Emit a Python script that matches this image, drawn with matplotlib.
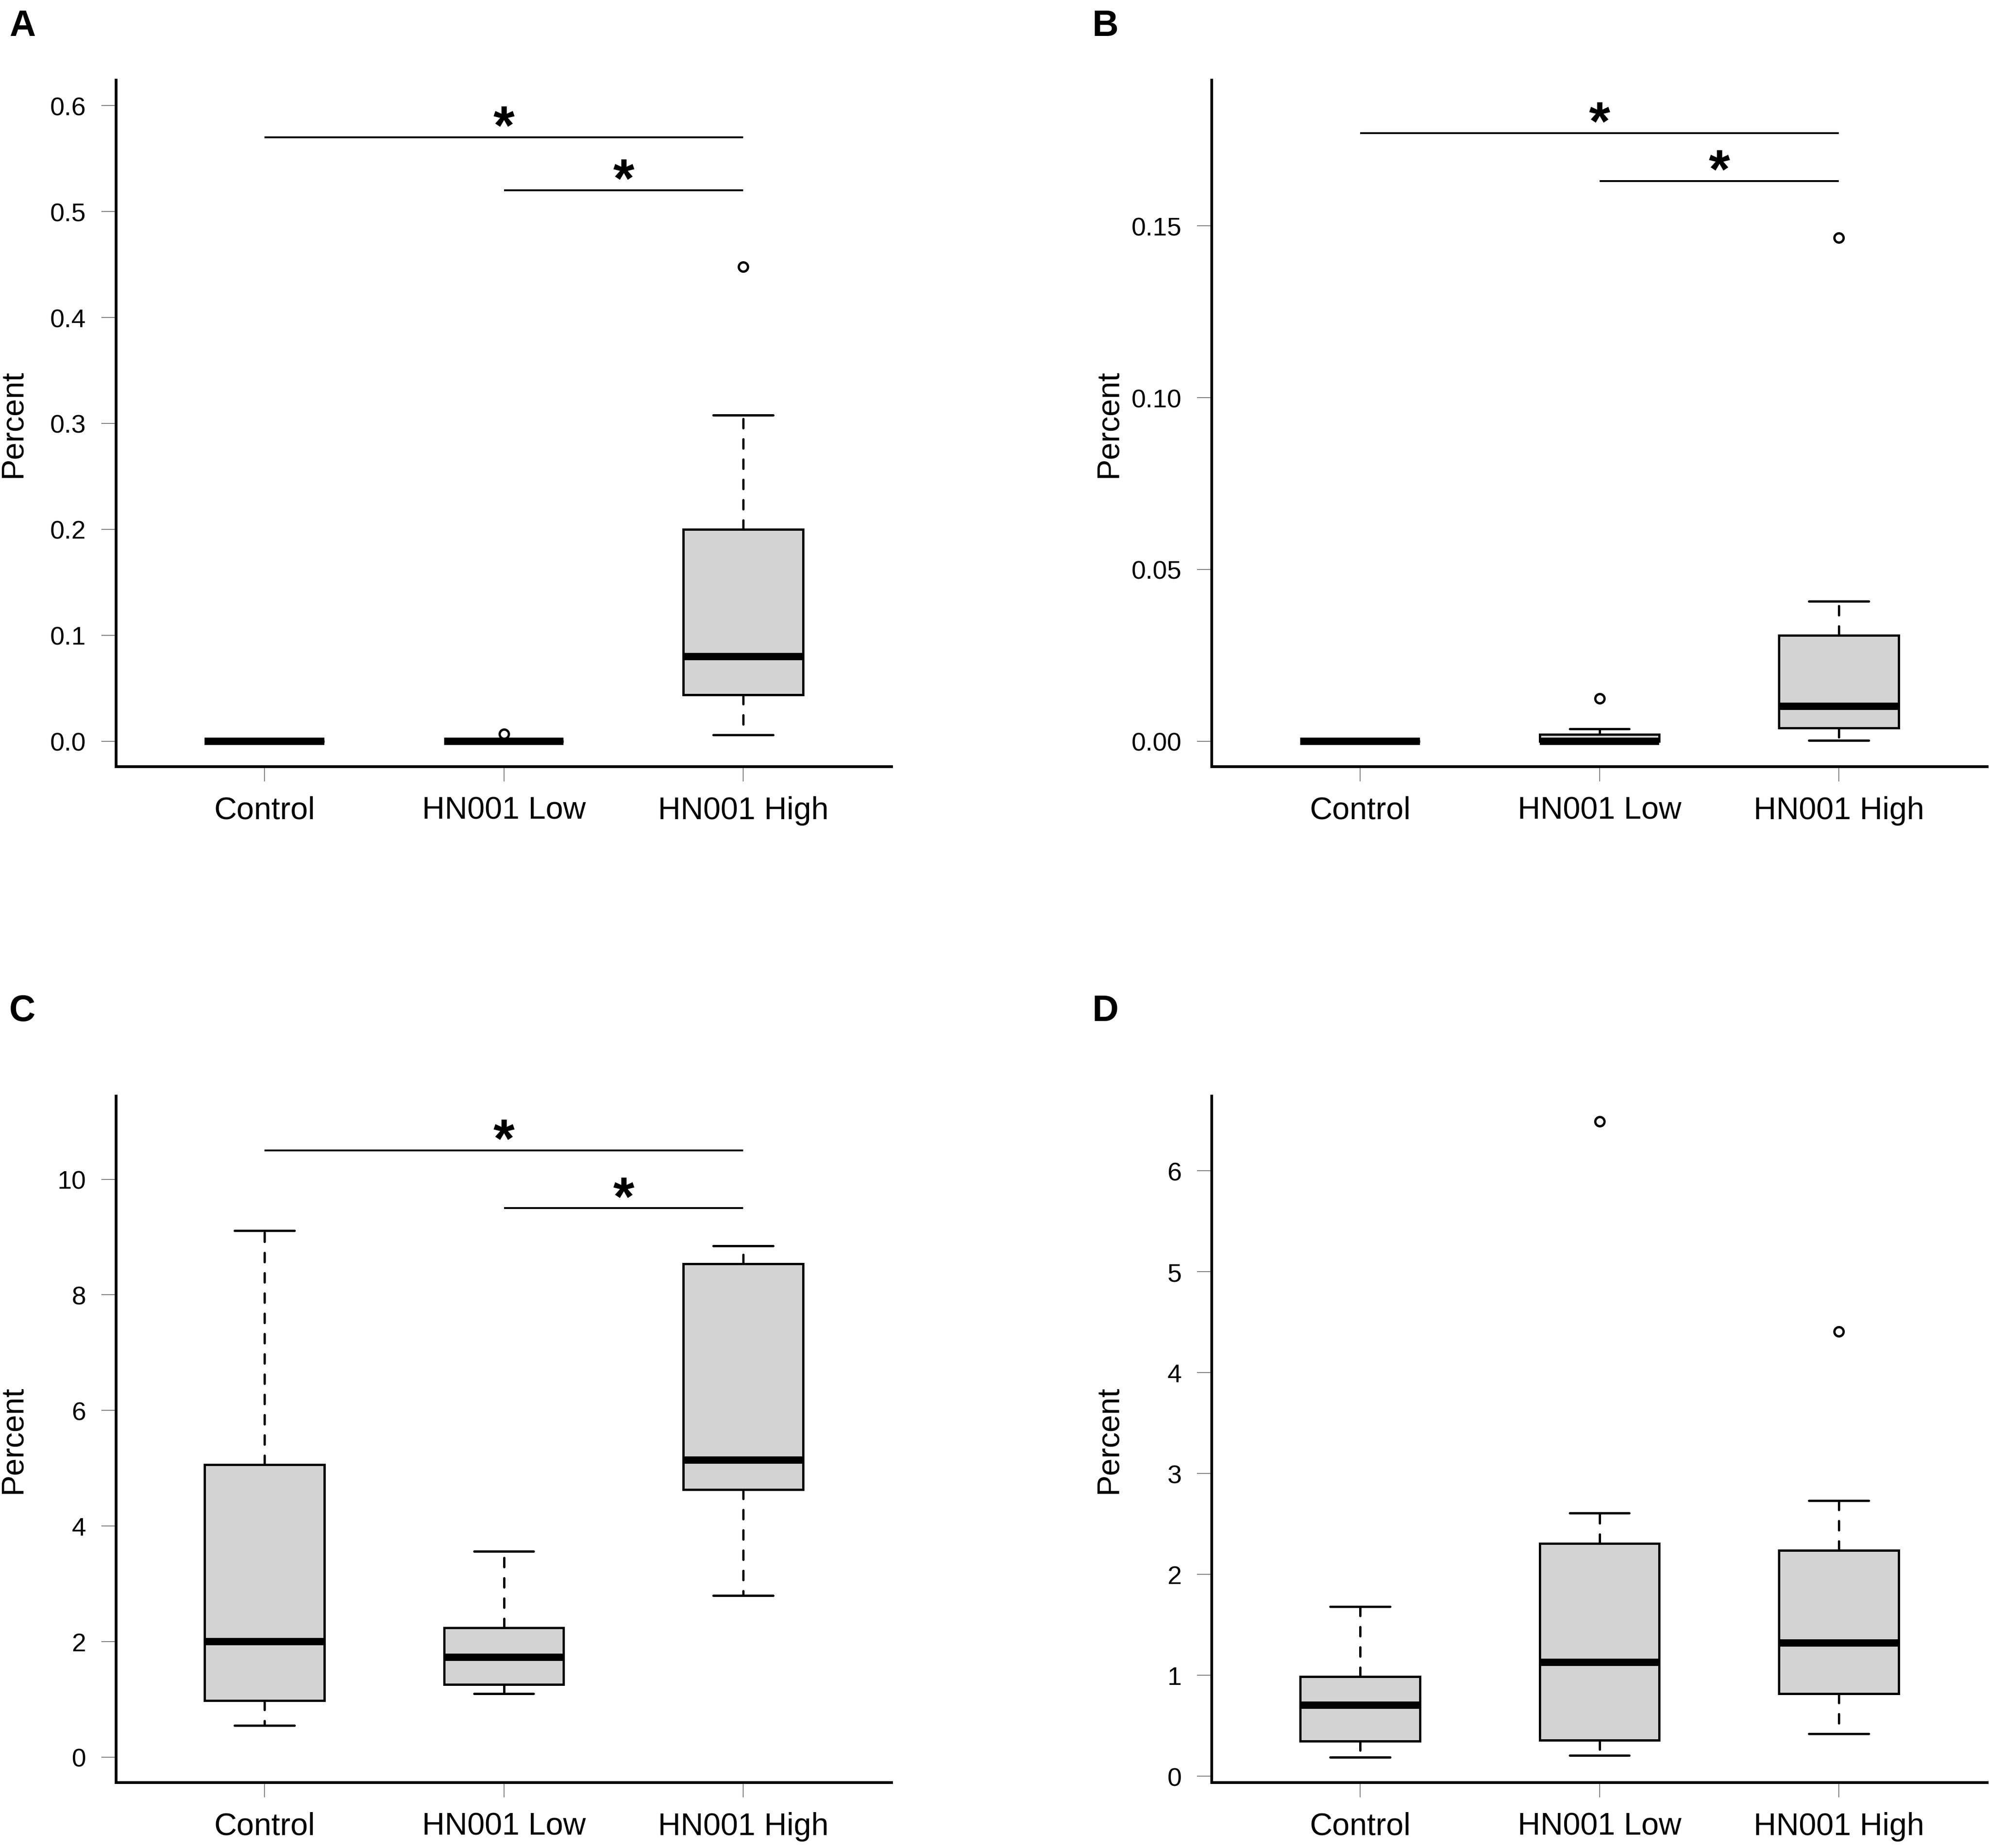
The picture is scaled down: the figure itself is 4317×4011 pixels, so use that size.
import matplotlib
matplotlib.use("Agg")
import matplotlib.pyplot as plt
import numpy as np

plt.rcParams['font.family'] = ['Liberation Sans', 'DejaVu Sans']

groups = ["Control", "HN001 Low", "HN001 High"]

# Panel A
a_med = [0.0, 0.0, 0.080]
a_q1 = [0.0, 0.0, 0.044]
a_q3 = [0.0, 0.0, 0.200]
a_lo = [0.0, 0.0, 0.006]
a_hi = [0.0, 0.0, 0.308]
a_out = [[], [0.007], [0.448]]
a_ylim = (0.0, 0.6)
a_ticks = [0.0, 0.1, 0.2, 0.3, 0.4, 0.5, 0.6]
a_ticklabels = ["0.0", "0.1", "0.2", "0.3", "0.4", "0.5", "0.6"]
a_sig = [(1, 3, 0.57), (2, 3, 0.52)]

# Panel B
b_med = [0.0, 0.0, 0.0102]
b_q1 = [0.0, 0.0, 0.0038]
b_q3 = [0.0, 0.0020, 0.0308]
b_lo = [0.0, 0.0, 0.0002]
b_hi = [0.0, 0.0036, 0.0408]
b_out = [[], [0.0125], [0.1466]]
b_ylim = (0.0, 0.185)
b_ticks = [0.00, 0.05, 0.10, 0.15]
b_ticklabels = ["0.00", "0.05", "0.10", "0.15"]
b_sig = [(1, 3, 0.177), (2, 3, 0.163)]

# Panel C
c_med = [2.00, 1.73, 5.14]
c_q1 = [0.98, 1.26, 4.63]
c_q3 = [5.06, 2.24, 8.54]
c_lo = [0.55, 1.10, 2.80]
c_hi = [9.11, 3.56, 8.85]
c_out = [[], [], []]
c_ylim = (0.0, 11.0)
c_ticks = [0, 2, 4, 6, 8, 10]
c_ticklabels = ["0", "2", "4", "6", "8", "10"]
c_sig = [(1, 3, 10.5), (2, 3, 9.5)]

# Panel D
d_med = [0.706, 1.128, 1.322]
d_q1 = [0.350, 0.356, 0.817]
d_q3 = [0.989, 2.306, 2.239]
d_lo = [0.189, 0.206, 0.422]
d_hi = [1.683, 2.610, 2.733]
d_out = [[], [6.49], [4.41]]
d_ylim = (0.189, 6.49)
d_ticks = [0, 1, 2, 3, 4, 5, 6]
d_ticklabels = ["0", "1", "2", "3", "4", "5", "6"]
d_sig = []

W, H = 4317, 4012
fig = plt.figure(figsize=(W / 100, H / 100), dpi=100)

ax_w, ax_h = 1683, 1490
layout = {
    "A": (252, 175),
    "B": (2630, 175),
    "C": (252, 2380),
    "D": (2630, 2380),
}
letter_pos = {
    "A": (20, 78),
    "B": (2371, 78),
    "C": (20, 2216),
    "D": (2371, 2216),
}

panels = {
    "A": (a_med, a_q1, a_q3, a_lo, a_hi, a_out, a_ylim, a_ticks, a_ticklabels, a_sig),
    "B": (b_med, b_q1, b_q3, b_lo, b_hi, b_out, b_ylim, b_ticks, b_ticklabels, b_sig),
    "C": (c_med, c_q1, c_q3, c_lo, c_hi, c_out, c_ylim, c_ticks, c_ticklabels, c_sig),
    "D": (d_med, d_q1, d_q3, d_lo, d_hi, d_out, d_ylim, d_ticks, d_ticklabels, d_sig),
}

PX = 0.72  # points per pixel at dpi 100

for key, (med, q1, q3, lo, hi, out, ylim, ticks, ticklabels, sig) in panels.items():
    left, top = layout[key]
    ax = fig.add_axes([left / W, 1 - (top + ax_h) / H, ax_w / W, ax_h / H])
    stats = []
    for i in range(3):
        stats.append(dict(med=med[i], q1=q1[i], q3=q3[i], whislo=lo[i],
                          whishi=hi[i], fliers=out[i]))
    ax.bxp(stats, positions=[1, 2, 3], widths=0.5, capwidths=0.25,
           patch_artist=True, showcaps=True, showfliers=True,
           boxprops=dict(facecolor='#D3D3D3', edgecolor='black', linewidth=5 * PX),
           medianprops=dict(color='black', linewidth=16 * PX, solid_capstyle='butt'),
           whiskerprops=dict(color='black', linewidth=5 * PX, linestyle=(0, (4, 4.8)),
                             dash_capstyle='round'),
           capprops=dict(color='black', linewidth=5 * PX, solid_capstyle='round'),
           flierprops=dict(marker='o', markersize=20 * PX, markerfacecolor='none',
                           markeredgecolor='black', markeredgewidth=5 * PX))
    lo_l, hi_l = ylim
    r = hi_l - lo_l
    ax.set_ylim(lo_l - 0.04 * r, hi_l + 0.04 * r)
    ax.set_xlim(0.38, 3.62)
    ax.set_xticks([1, 2, 3])
    ax.set_xticklabels(groups, fontsize=68 * PX)
    ax.set_yticks(ticks)
    ax.set_yticklabels(ticklabels, fontsize=56 * PX)
    ax.tick_params(axis='both', direction='out', length=32 * PX, width=2 * PX,
                   color='#808080', pad=24)
    ax.tick_params(axis='x', pad=22)
    for s in ['top', 'right']:
        ax.spines[s].set_visible(False)
    for s in ['left', 'bottom']:
        ax.spines[s].set_linewidth(6 * PX)
        ax.spines[s].set_capstyle('projecting')
    ax.text(-0.1331, 0.5, "Percent", rotation=90, ha='center', va='center',
            fontsize=68 * PX, transform=ax.transAxes)
    for (x1, x2, y) in sig:
        ax.plot([x1, x2], [y, y], color='black', linewidth=4 * PX,
                solid_capstyle='butt')
        ax.annotate("*", xy=((x1 + x2) / 2, y), xytext=(0, -14 * PX),
                    textcoords='offset points', ha='center', va='baseline',
                    fontsize=118 * PX, fontweight='bold')
    lx, ly = letter_pos[key]
    fig.text(lx / W, 1 - ly / H, key, fontsize=79 * PX, fontweight='bold',
             ha='left', va='baseline')

fig.savefig("out.png", dpi=100, facecolor='white')
